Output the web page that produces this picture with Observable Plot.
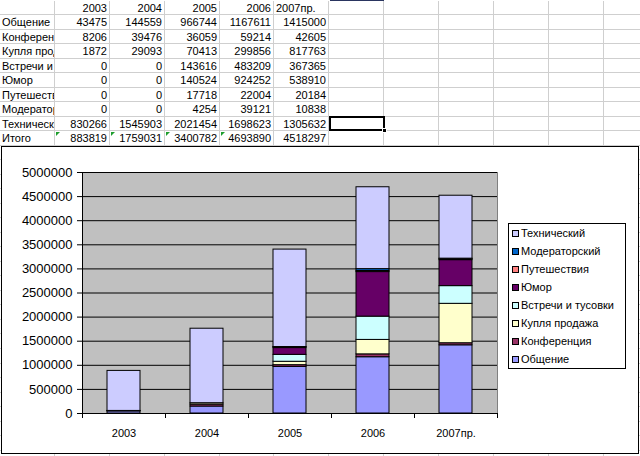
<!DOCTYPE html>
<html>
<head>
<meta charset="utf-8">
<script src="https://cdn.jsdelivr.net/npm/d3@7"></script>
<script src="https://cdn.jsdelivr.net/npm/@observablehq/plot@0.6"></script>
<style>
  html, body { margin: 0; padding: 0; background: #fff; overflow: hidden; }
  body { width: 640px; height: 456px; position: relative; font-family: Arial, "Liberation Sans", sans-serif; }
  #sheet { position: absolute; left: 0; top: 0; width: 640px; height: 456px; overflow: hidden; }
  .cell { position: absolute; box-sizing: border-box; border-right: 1px solid #cfcfcf; border-bottom: 1px solid #cfcfcf;
          font-size: 11px; line-height: 13px; white-space: nowrap; overflow: hidden; color: #000; padding: 0 2px; }
  .num { text-align: right; }
  .tri { position: absolute; width: 0; height: 0; border-top: 4px solid #1e9e2e; border-right: 4px solid transparent; }
  #chartbox { position: absolute; left: 1px; top: 146px; width: 638px; height: 308px; box-sizing: border-box;
              border: 1px solid #000; background: #fff; }
  #chartbox svg { position: absolute; left: 0; top: 0; }
  #legend { position: absolute; left: 506px; top: 76px; width: 118px; height: 146px; box-sizing: border-box;
            border: 1px solid #000; background: #fff; padding-top: 0px; }
  .li { height: 18px; line-height: 18px; font-size: 11px; white-space: nowrap; position: relative; }
  .sw { position: absolute; left: 3px; top: 6px; width: 7px; height: 7px; box-sizing: border-box; border: 1px solid #000; }
  .lt { position: absolute; left: 12px; top: 0; }
</style>
</head>
<body>
<div id="sheet"></div>
<div id="chartbox"><div id="legend"></div></div>
<script>
// ---------- data ----------
const years = ["2003", "2004", "2005", "2006", "2007пр."];
const seriesNames = ["Общение", "Конференция", "Купля продажа", "Встречи и тусовки", "Юмор", "Путешествия", "Модераторский", "Технический"];
const obshchenie   = [43475, 144559, 966744, 1167611, 1415000];
const konferencia  = [8206, 39476, 36059, 59214, 42605];
const kuplya       = [1872, 29093, 70413, 299856, 817763];
const vstrechi     = [0, 0, 143616, 483209, 367365];
const yumor        = [0, 0, 140524, 924252, 538910];
const puteshestvia = [0, 0, 17718, 22004, 20184];
const moderator    = [0, 0, 4254, 39121, 10838];
const tekhnicheskiy= [830266, 1545903, 2021454, 1698623, 1305632];
const totalLabel = "Итого";
const totals       = [883819, 1759031, 3400782, 4693890, 4518297];
const seriesColors = ["#9999ff", "#993366", "#ffffcc", "#ccffff", "#660066", "#ff8080", "#0066cc", "#ccccff"];
const yTicks = [0, 500000, 1000000, 1500000, 2000000, 2500000, 3000000, 3500000, 4000000, 4500000, 5000000];

const seriesValues = [obshchenie, konferencia, kuplya, vstrechi, yumor, puteshestvia, moderator, tekhnicheskiy];

// ---------- spreadsheet ----------
const sheet = document.getElementById("sheet");
const colB = [0, 55, 110, 165, 220, 274, 329, 384, 439, 494, 549, 604, 659];
const rowB = d3.range(0, 34).map(r => Math.round(0.5 + 14.52 * r));
const tableRows = [["", ...years]]
  .concat(seriesNames.map((n, i) => [n, ...seriesValues[i]]))
  .concat([[totalLabel, ...totals]]);
for (let r = 0; r < rowB.length - 1; r++) {
  for (let c = 0; c < colB.length - 1; c++) {
    const d = document.createElement("div");
    d.className = "cell";
    d.style.left = colB[c] + "px";
    d.style.top = rowB[r] + "px";
    d.style.width = (colB[c + 1] - colB[c]) + "px";
    d.style.height = (rowB[r + 1] - rowB[r]) + "px";
    d.style.paddingTop = "1px";
    const v = tableRows[r] ? tableRows[r][c] : undefined;
    if (v !== undefined && v !== "") {
      const isNum = typeof v === "number" || /^\d+$/.test(v);
      if (isNum) d.classList.add("num");
      d.textContent = String(v);
    }
    sheet.appendChild(d);
  }
}
// error indicators on totals row
for (let c = 1; c <= 4; c++) {
  const t = document.createElement("div");
  t.className = "tri";
  t.style.left = (colB[c] + 1) + "px";
  t.style.top = (rowB[9] + 1) + "px";
  sheet.appendChild(t);
}
// selected cell (column G, row of Технический)
{
  const s = document.createElement("div");
  s.style.cssText = `position:absolute;box-sizing:border-box;border:2px solid #000;left:${colB[6]}px;top:${rowB[8] - 1}px;width:${colB[7] - colB[6] + 1}px;height:${rowB[9] - rowB[8] + 1}px;`;
  sheet.appendChild(s);
  const h = document.createElement("div");
  h.style.cssText = `position:absolute;background:#000;border:1px solid #fff;left:${colB[7] - 2}px;top:${rowB[9] - 3}px;width:3px;height:3px;`;
  sheet.appendChild(h);
  const top = document.createElement("div");
  top.style.cssText = `position:absolute;background:#2a3560;left:${colB[6] + 1}px;top:0px;width:${colB[7] - colB[6] - 1}px;height:1px;`;
  sheet.appendChild(top);
}

// ---------- chart ----------
const rows = years.flatMap((y, j) => seriesNames.map((s, i) => ({year: y, series: s, value: seriesValues[i][j]})));

const chart = Plot.plot({
  width: 636,
  height: 306,
  marginLeft: 80,
  marginRight: 141,
  marginTop: 25,
  marginBottom: 40,
  style: {fontFamily: "Arial, 'Liberation Sans', sans-serif", background: "transparent", color: "#000", overflow: "visible"},
  x: {domain: years, paddingInner: 0.6, paddingOuter: 0.3, label: null},
  y: {domain: [0, 5000000], label: null},
  color: {domain: seriesNames, range: seriesColors},
  marks: [
    Plot.frame({fill: "#c0c0c0", stroke: "#808080"}),
    Plot.gridY(yTicks, {stroke: "#000", strokeOpacity: 1}),
    Plot.barY(rows, {x: "year", y: "value", fill: "series", stroke: "#000", strokeWidth: 1}),
    Plot.frame({anchor: "left", stroke: "#000"}),
    Plot.ruleY([0], {stroke: "#000"}),
    Plot.axisY(yTicks, {tickSize: 5, tickPadding: 5, tickFormat: d => String(d), fontSize: 13, label: null}),
    Plot.axisX({tickSize: 0, tickPadding: 16, fontSize: 11, label: null}),
    Plot.axisX(years, {tickSize: 5, text: null, dx: -41.5, label: null}),
    Plot.axisX([years[years.length - 1]], {tickSize: 5, text: null, dx: 41.5, label: null})
  ]
});
const box = document.getElementById("chartbox");
box.insertBefore(chart, box.firstChild);

// legend (reverse order, as in Excel)
const legend = document.getElementById("legend");
seriesNames.map((n, i) => ({n, c: seriesColors[i]})).reverse().forEach(({n, c}) => {
  const li = document.createElement("div");
  li.className = "li";
  const sw = document.createElement("div");
  sw.className = "sw";
  sw.style.background = c;
  const t = document.createElement("span");
  t.className = "lt";
  t.textContent = n;
  li.appendChild(sw);
  li.appendChild(t);
  legend.appendChild(li);
});
</script>
</body>
</html>
